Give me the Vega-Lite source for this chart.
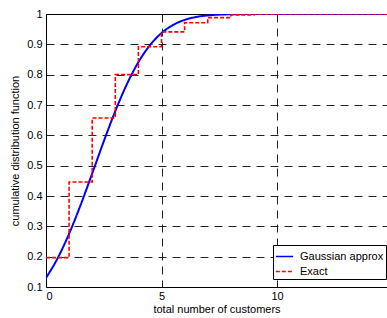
{
  "$schema": "https://vega.github.io/schema/vega-lite/v6.json",
  "autosize": {"type": "none"},
  "padding": {"left": 46, "top": 14, "right": 0, "bottom": 31},
  "width": 341,
  "height": 273,
  "background": "white",
  "config": {
    "font": "Liberation Sans",
    "view": {"stroke": null},
    "axis": {
      "labelFont": "Liberation Sans",
      "titleFont": "Liberation Sans",
      "labelFontSize": 11,
      "titleFontSize": 11,
      "titleFontWeight": "normal",
      "labelColor": "#000",
      "titleColor": "#000",
      "domainColor": "#000",
      "domainWidth": 1,
      "tickSize": 0,
      "labelOverlap": false,
      "gridColor": "#222",
      "gridDash": [8, 6],
      "gridWidth": 1,
      "gridOpacity": 1
    }
  },
  "datasets": {
    "gauss": [
      {"x": 0, "y": 0.1297, "series": "Gaussian approx"},
      {"x": 0.5, "y": 0.1944, "series": "Gaussian approx"},
      {"x": 1, "y": 0.2757, "series": "Gaussian approx"},
      {"x": 1.5, "y": 0.3707, "series": "Gaussian approx"},
      {"x": 2, "y": 0.4745, "series": "Gaussian approx"},
      {"x": 2.5, "y": 0.58, "series": "Gaussian approx"},
      {"x": 3, "y": 0.68, "series": "Gaussian approx"},
      {"x": 3.5, "y": 0.7685, "series": "Gaussian approx"},
      {"x": 4, "y": 0.8413, "series": "Gaussian approx"},
      {"x": 4.5, "y": 0.8973, "series": "Gaussian approx"},
      {"x": 5, "y": 0.9372, "series": "Gaussian approx"},
      {"x": 5.5, "y": 0.9639, "series": "Gaussian approx"},
      {"x": 6, "y": 0.9805, "series": "Gaussian approx"},
      {"x": 6.5, "y": 0.9901, "series": "Gaussian approx"},
      {"x": 7, "y": 0.9953, "series": "Gaussian approx"},
      {"x": 7.5, "y": 0.9979, "series": "Gaussian approx"},
      {"x": 8, "y": 0.9991, "series": "Gaussian approx"},
      {"x": 9, "y": 0.9999, "series": "Gaussian approx"},
      {"x": 10, "y": 1.0, "series": "Gaussian approx"},
      {"x": 14.76, "y": 1.0, "series": "Gaussian approx"}
    ],
    "exact": [
      {"x": 0, "y": 0.197, "series": "Exact"},
      {"x": 1, "y": 0.446, "series": "Exact"},
      {"x": 2, "y": 0.657, "series": "Exact"},
      {"x": 3, "y": 0.8, "series": "Exact"},
      {"x": 4, "y": 0.892, "series": "Exact"},
      {"x": 5, "y": 0.941, "series": "Exact"},
      {"x": 6, "y": 0.971, "series": "Exact"},
      {"x": 7, "y": 0.988, "series": "Exact"},
      {"x": 8, "y": 0.997, "series": "Exact"},
      {"x": 9, "y": 0.9995, "series": "Exact"},
      {"x": 10, "y": 1.0, "series": "Exact"},
      {"x": 14.76, "y": 1.0, "series": "Exact"}
    ]
  },
  "layer": [
    {
      "data": {"name": "gauss"},
      "mark": {"type": "line", "strokeWidth": 2, "interpolate": "monotone", "clip": true},
      "encoding": {
        "x": {
          "field": "x", "type": "quantitative",
          "scale": {"domain": [0, 14.76], "nice": false, "zero": false},
          "axis": {"orient": "bottom", "values": [0, 5, 10], "tickCount": 20, "title": "total number of customers", "titlePadding": 2, "labelPadding": 3, "grid": true}
        },
        "y": {
          "field": "y", "type": "quantitative",
          "scale": {"domain": [0.1, 1], "nice": false, "zero": false},
          "axis": {"values": [0.1, 0.2, 0.3, 0.4, 0.5, 0.6, 0.7, 0.8, 0.9, 1], "tickCount": 20, "format": ".1~f", "title": "cumulative distribution function", "titlePadding": 6, "labelPadding": 4, "grid": true}
        },
        "color": {
          "field": "series", "type": "nominal",
          "scale": {"domain": ["Gaussian approx", "Exact"], "range": ["#0000ff", "#ff0000"]},
          "legend": {
            "title": null, "orient": "none", "legendX": 227, "legendY": 231,
            "direction": "vertical",
            "strokeColor": "#000", "fillColor": "#fff", "padding": 2,
            "symbolType": "stroke", "symbolSize": 300, "symbolStrokeWidth": 1.5,
            "labelFontSize": 11, "labelFont": "Liberation Sans", "labelColor": "#000",
            "rowPadding": 0, "labelOffset": 6, "cornerRadius": 0
          }
        },
        "strokeDash": {
          "field": "series", "type": "nominal",
          "scale": {"domain": ["Gaussian approx", "Exact"], "range": [[1, 0], [4, 2]]},
          "legend": {"title": null, "orient": "none", "legendX": 227, "legendY": 231}
        }
      }
    },
    {
      "data": {"name": "exact"},
      "mark": {"type": "line", "strokeWidth": 1.6, "interpolate": "step-after", "clip": true},
      "encoding": {
        "x": {
          "field": "x", "type": "quantitative",
          "axis": {"orient": "top", "labels": false, "ticks": false, "title": null, "grid": false, "domain": true}
        },
        "y": {"field": "y", "type": "quantitative"},
        "color": {"field": "series", "type": "nominal"},
        "strokeDash": {"field": "series", "type": "nominal"}
      }
    }
  ],
  "resolve": {"axis": {"x": "independent"}}
}
